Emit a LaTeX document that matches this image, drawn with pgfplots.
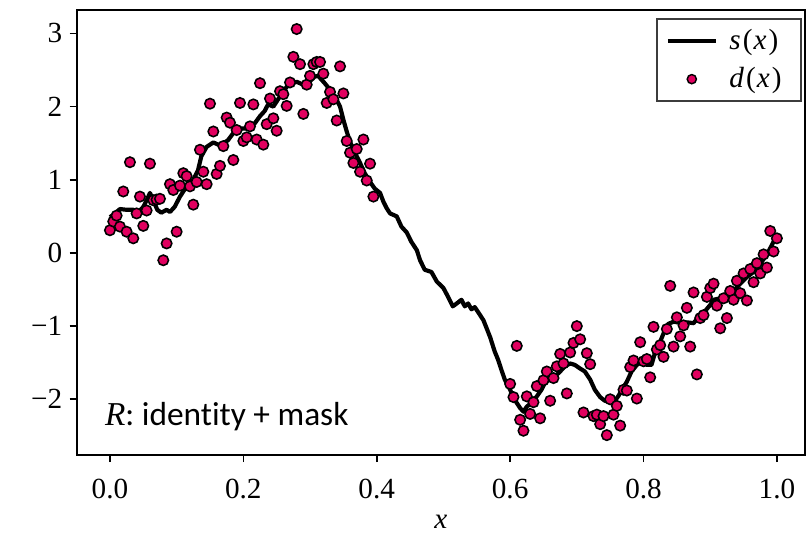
\documentclass[border=0pt]{standalone}
\usepackage{pgfplots}
\pgfplotsset{compat=1.18}
\usepackage{fontspec}
\setmainfont{Liberation Serif}
\newfontfamily\labelfont[Ligatures=NoCommon]{Carlito}
\definecolor{dotc}{RGB}{225,0,95}
\definecolor{legbd}{RGB}{60,60,60}
\begin{document}
\begin{tikzpicture}
\useasboundingbox (-36.9pt,-37.4pt) rectangle (350.2pt,218.2pt);
\begin{axis}[
  scale only axis, width=349.2pt, height=213.4pt,
  at={(0,0)}, anchor=south west,
  xmin=-0.0495, xmax=1.042, ymin=-2.76, ymax=3.32,
  axis line style={line width=1pt},
  tick align=outside, xtick pos=left, ytick pos=left,
  major tick length=3.5pt,
  tick style={black, line width=0.8pt},
  xtick={0,0.2,0.4,0.6,0.8,1.0},
  xticklabels={0.0,0.2,0.4,0.6,0.8,1.0},
  ytick={-2,-1,0,1,2,3},
  yticklabels={−2,−1,0,1,2,3},
  tick label style={font=\fontsize{14}{16}\selectfont},
  xticklabel shift=4.5pt,
  xlabel={\textit{x}},
  xlabel style={at={(axis description cs:0.5,0)}, anchor=center, yshift=-32pt},
  label style={font=\fontsize{14}{16}\selectfont},
  legend style={at={(rel axis cs:0.9966,0.982)}, anchor=north east,
    draw=legbd, line width=1pt, fill=white,
    font=\fontsize{14}{16}\selectfont, inner xsep=4pt, inner ysep=3pt,
    row sep=3pt, nodes={inner xsep=5.5pt}},
  legend cell align=left,
  legend image code/.code={\draw[mark repeat=2,mark phase=2,#1] plot coordinates {(0pt,0pt) (11.5pt,0pt) (23pt,0pt)};},
]
\addplot[only marks, mark=*, mark size=2.5pt,
  mark options={fill=dotc, draw=black, line width=0.75pt}, forget plot] table {
x y
0.000 0.31
0.005 0.43
0.010 0.51
0.015 0.36
0.020 0.84
0.025 0.29
0.030 1.24
0.035 0.20
0.040 0.54
0.045 0.77
0.050 0.37
0.055 0.58
0.060 1.22
0.065 0.72
0.070 0.73
0.075 0.74
0.080 -0.10
0.085 0.13
0.090 0.94
0.095 0.86
0.100 0.29
0.105 0.92
0.110 1.09
0.115 1.05
0.120 0.91
0.125 0.66
0.130 0.97
0.135 1.41
0.140 1.11
0.145 0.94
0.150 2.04
0.155 1.66
0.160 1.08
0.165 1.19
0.170 1.46
0.175 1.85
0.180 1.78
0.185 1.27
0.190 1.68
0.195 2.05
0.200 1.53
0.205 1.58
0.210 1.73
0.215 2.03
0.220 1.55
0.225 2.32
0.230 1.48
0.235 1.76
0.240 2.11
0.245 1.84
0.250 1.67
0.255 2.21
0.260 2.17
0.265 2.01
0.270 2.33
0.275 2.68
0.280 3.06
0.285 2.58
0.290 1.90
0.295 2.30
0.300 2.42
0.305 2.58
0.310 2.61
0.315 2.61
0.320 2.45
0.325 2.05
0.330 2.20
0.335 2.10
0.340 1.81
0.345 2.55
0.350 2.18
0.355 1.53
0.360 1.37
0.365 1.23
0.370 1.42
0.375 1.11
0.380 1.55
0.385 0.99
0.390 1.22
0.395 0.77
0.600 -1.79
0.605 -1.97
0.610 -1.27
0.615 -2.28
0.620 -2.43
0.625 -1.96
0.630 -2.20
0.635 -2.04
0.640 -1.82
0.645 -2.26
0.650 -1.74
0.655 -1.62
0.660 -2.02
0.665 -1.71
0.670 -1.55
0.675 -1.38
0.680 -1.51
0.685 -1.92
0.690 -1.36
0.695 -1.23
0.700 -1.00
0.705 -1.18
0.710 -2.18
0.715 -1.37
0.720 -1.52
0.725 -2.23
0.730 -2.21
0.735 -2.34
0.740 -2.23
0.745 -2.49
0.750 -2.00
0.755 -2.21
0.760 -2.09
0.765 -2.36
0.770 -1.87
0.775 -1.88
0.780 -1.56
0.785 -1.47
0.790 -1.99
0.795 -1.22
0.800 -1.48
0.805 -1.45
0.810 -1.70
0.815 -1.01
0.820 -1.32
0.825 -1.26
0.830 -1.42
0.835 -1.04
0.840 -0.45
0.845 -1.28
0.850 -0.88
0.855 -1.14
0.860 -0.99
0.865 -0.75
0.870 -1.28
0.875 -0.54
0.880 -1.66
0.885 -0.89
0.890 -0.85
0.895 -0.60
0.900 -0.48
0.905 -0.42
0.910 -0.72
0.915 -1.03
0.920 -0.62
0.925 -0.89
0.930 -0.52
0.935 -0.64
0.940 -0.38
0.945 -0.55
0.950 -0.28
0.955 -0.65
0.960 -0.22
0.965 -0.40
0.970 -0.14
0.975 -0.28
0.980 -0.02
0.985 -0.20
0.990 0.30
0.995 0.02
1.000 0.20
};
\addplot[black, line width=2pt, line join=round] table {
x y
0.000 0.49
0.005 0.52
0.015 0.60
0.025 0.59
0.035 0.59
0.043 0.56
0.050 0.63
0.055 0.72
0.060 0.82
0.065 0.72
0.071 0.59
0.077 0.55
0.085 0.59
0.090 0.56
0.097 0.63
0.105 0.77
0.115 0.91
0.125 1.00
0.132 1.13
0.137 1.32
0.145 1.45
0.155 1.51
0.165 1.47
0.177 1.54
0.185 1.64
0.195 1.70
0.205 1.70
0.217 1.77
0.225 1.87
0.232 1.94
0.237 2.03
0.245 2.00
0.255 2.14
0.265 2.27
0.272 2.31
0.280 2.34
0.287 2.31
0.294 2.28
0.300 2.35
0.307 2.41
0.312 2.42
0.317 2.37
0.322 2.32
0.330 2.23
0.340 2.09
0.345 2.00
0.350 1.82
0.355 1.66
0.360 1.52
0.365 1.41
0.370 1.32
0.375 1.23
0.382 1.09
0.390 0.97
0.397 0.88
0.405 0.82
0.410 0.70
0.415 0.61
0.420 0.54
0.430 0.50
0.437 0.36
0.445 0.28
0.452 0.15
0.460 0.04
0.465 -0.10
0.472 -0.23
0.482 -0.26
0.490 -0.39
0.500 -0.48
0.507 -0.60
0.514 -0.73
0.520 -0.69
0.527 -0.64
0.532 -0.73
0.537 -0.69
0.542 -0.77
0.547 -0.74
0.555 -0.85
0.560 -0.92
0.570 -1.15
0.577 -1.35
0.582 -1.46
0.587 -1.60
0.592 -1.73
0.600 -1.87
0.607 -2.01
0.615 -2.12
0.620 -2.17
0.625 -2.10
0.632 -2.05
0.640 -1.96
0.647 -1.87
0.652 -1.78
0.660 -1.71
0.667 -1.69
0.675 -1.62
0.682 -1.55
0.690 -1.51
0.697 -1.53
0.705 -1.58
0.712 -1.62
0.720 -1.73
0.727 -1.87
0.735 -1.97
0.742 -2.02
0.750 -2.03
0.757 -2.02
0.762 -1.96
0.767 -1.88
0.775 -1.76
0.782 -1.62
0.790 -1.53
0.797 -1.48
0.805 -1.53
0.812 -1.53
0.817 -1.37
0.822 -1.28
0.830 -1.10
0.837 -0.97
0.845 -0.94
0.852 -0.95
0.860 -0.95
0.867 -0.95
0.875 -0.96
0.882 -0.88
0.890 -0.82
0.900 -0.71
0.905 -0.64
0.915 -0.62
0.925 -0.55
0.935 -0.52
0.945 -0.42
0.955 -0.33
0.965 -0.26
0.975 -0.15
0.985 -0.02
0.992 0.10
1.000 0.25
};
\addlegendentry{\textit{s}\kern1pt(\kern0.5pt\textit{x}\kern1pt)}
\addlegendimage{only marks, mark=*, mark size=2.2pt,
  mark options={fill=dotc, draw=black, line width=0.7pt}}
\addlegendentry{\textit{d}\kern1pt(\kern0.5pt\textit{x}\kern1pt)}
\node[anchor=west, font=\fontsize{16}{19}\selectfont, inner sep=0pt]
  at (axis cs:-0.008,-2.24) {\textit{R}\labelfont: identity + mask};
\end{axis}
\end{tikzpicture}
\end{document}
